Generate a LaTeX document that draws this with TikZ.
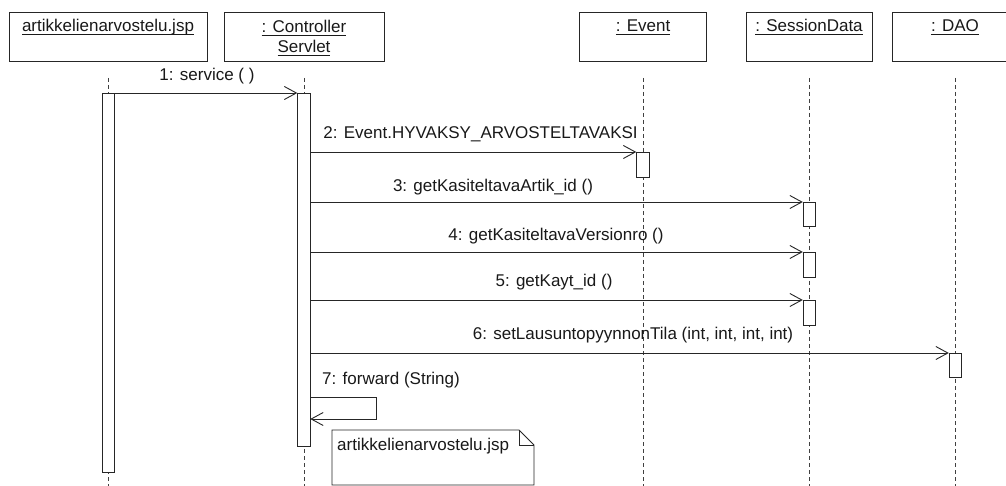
\documentclass[tikz,border=0pt]{standalone}
\usepackage{fontspec}
\setmainfont{Liberation Sans}
\usetikzlibrary{arrows.meta}
% underlined object name, rule drawn just under the baseline
\newcommand{\objlabel}[1]{\setbox0=\hbox{#1}\rlap{\rule[-2.5pt]{\wd0}{0.9pt}}\box0}
\begin{document}
\begin{tikzpicture}[x=1pt,y=-1pt,
  txt/.style={font=\fontsize{17}{20}\selectfont, inner sep=0pt, text=black!90},
  objbox/.style={draw=black!85, line width=0.9pt, minimum height=49pt, inner sep=0pt},
  act/.style={draw=black!85, fill=white, line width=0.9pt, minimum width=12.5pt, inner sep=0pt, anchor=north},
  lifeline/.style={draw=black!75, line width=0.9pt, dash pattern=on 4pt off 3pt},
  msg/.style={draw=black!85, line width=0.9pt, -{Straight Barb[length=12pt,width=13pt]}},
  notebox/.style={draw=black!85, line width=0.9pt, fill=white}
  ]
\useasboundingbox (0,0) rectangle (1006,486);
\clip (0,0) rectangle (1006,486);
\fill[white] (0,0) rectangle (1006,486);

% object boxes
\node[objbox, minimum width=198pt] (jsp) at (108,36.5) {};
\node[objbox, minimum width=160pt] (ctl) at (304,36.5) {};
\node[objbox, minimum width=127pt] (ev)  at (643,36.5) {};
\node[objbox, minimum width=126pt] (sd)  at (809,36.5) {};
\node[objbox, minimum width=126pt] (dao) at (955,36.5) {};

% object names
\node[txt, anchor=base] (jspname)  at (108,32) {\objlabel{artikkelienarvostelu.jsp}};
\node[txt, anchor=base] (ctlname1) at (304,33) {\objlabel{: Controller}};
\node[txt, anchor=base] (ctlname2) at (304,53) {\objlabel{Servlet}};
\node[txt, anchor=base] (evname)   at (643,32) {\objlabel{: Event}};
\node[txt, anchor=base] (sdname)   at (809,32) {\objlabel{: SessionData}};
\node[txt, anchor=base] (daoname)  at (955,32) {\objlabel{: DAO}};

% lifelines
\coordinate (top) at (0,78);
\coordinate (bot) at (0,490);
\foreach \o in {jsp,ctl,ev,sd,dao}
  \draw[lifeline] (\o.south |- top) -- (\o.south |- bot);

% activation bars
\node[act, minimum height=379pt] (jspact) at (108.5,93) {};
\node[act, minimum height=353pt] (ctlact) at (304,93) {};
\node[act, minimum height=25pt]  (evact)  at (643,152) {};
\node[act, minimum height=24pt]  (sdact3) at (809.5,202) {};
\node[act, minimum height=25pt]  (sdact4) at (809.5,252) {};
\node[act, minimum height=25pt]  (sdact5) at (809.5,300) {};
\node[act, minimum height=24pt]  (daoact) at (955.5,353) {};

% messages
\draw[msg] (jspact.north east) -- (ctlact.north west);
\draw[msg] (ctlact.east |- evact.north) -- (evact.north west);
\draw[msg] (ctlact.east |- sdact3.north) -- (sdact3.north west);
\draw[msg] (ctlact.east |- sdact4.north) -- (sdact4.north west);
\draw[msg] (ctlact.east |- sdact5.north) -- (sdact5.north west);
\draw[msg] (ctlact.east |- daoact.north) -- (daoact.north west);
\coordinate (fwdA) at (310.25,397);
\coordinate (fwdB) at (310.25,419);
\draw[msg] (fwdA) -- (376,397) -- (376,419) -- (fwdB);

% message labels
\node[txt, anchor=base] (m1) at (207,81) {1: service ( )};
\node[txt, anchor=base] (m2) at (480.5,139) {2: Event.HYVAKSY\_ARVOSTELTAVAKSI};
\node[txt, anchor=base] (m3) at (493,192) {3: getKasiteltavaArtik\_id ()};
\node[txt, anchor=base] (m4) at (556,241) {4: getKasiteltavaVersionro ()};
\node[txt, anchor=base] (m5) at (554,287) {5: getKayt\_id ()};
\node[txt, anchor=base] (m6) at (633,339) {6: setLausuntopyynnonTila (int, int, int, int)};
\node[txt, anchor=base west] (m7) at (322,384) {7: forward (String)};

% note with folded corner
\coordinate (nA) at (332,485);
\coordinate (nB) at (332,430);
\coordinate (nC) at (519,430);
\coordinate (nD) at (534,445);
\coordinate (nE) at (534,485);
\coordinate (nF) at (519,445);
\draw[notebox] (nA) -- (nB) -- (nC) -- (nD) -- (nE) -- cycle;
\draw[notebox, fill=none] (nC) -- (nF) -- (nD);
\node[txt, anchor=base west] (notetxt) at (337,450) {artikkelienarvostelu.jsp};
\end{tikzpicture}
\end{document}
